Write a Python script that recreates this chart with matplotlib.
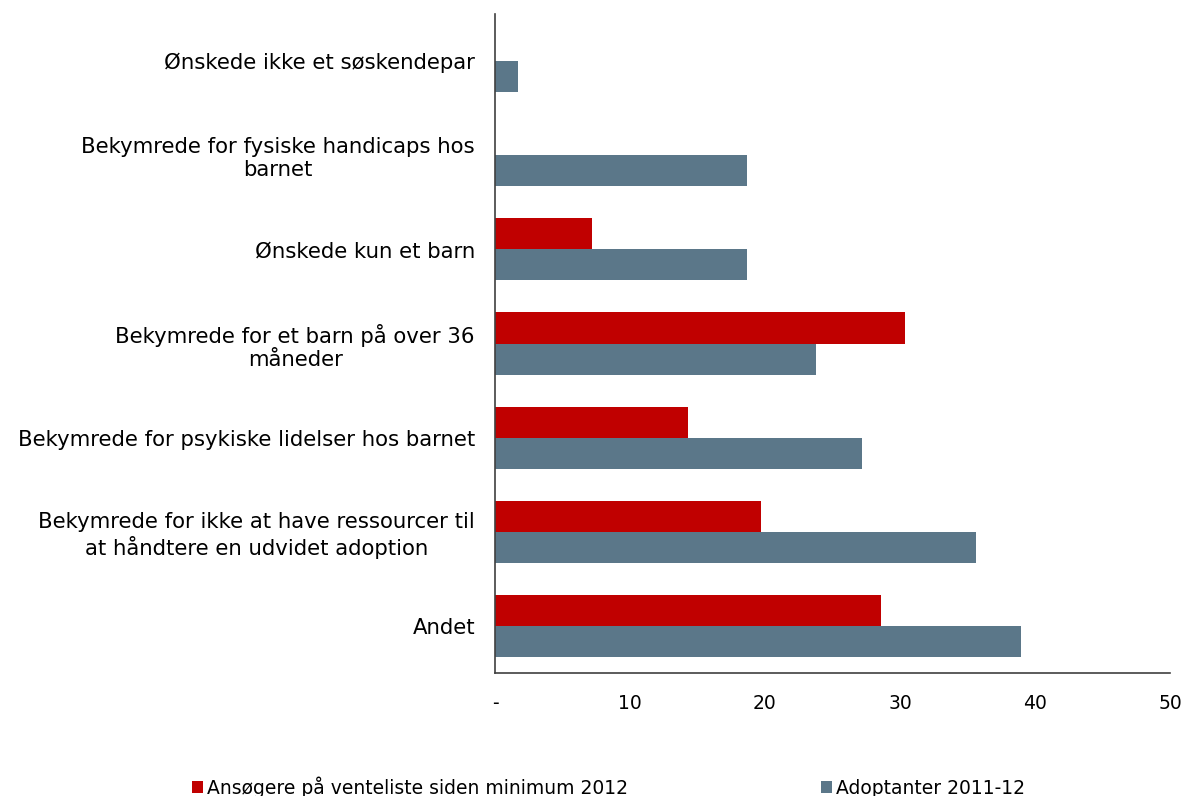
import matplotlib.pyplot as plt
import numpy as np

categories = [
    "Ønskede ikke et søskendepar",
    "Bekymrede for fysiske handicaps hos\nbarnet",
    "Ønskede kun et barn",
    "Bekymrede for et barn på over 36\nmåneder",
    "Bekymrede for psykiske lidelser hos barnet",
    "Bekymrede for ikke at have ressourcer til\nat håndtere en udvidet adoption",
    "Andet",
]
ansoegere = [0, 0, 7.2, 30.4, 14.3, 19.7, 28.6]
adoptanter = [1.7, 18.7, 18.7, 23.8, 27.2, 35.6, 39.0]
series_names = ["Ansøgere på venteliste siden minimum 2012", "Adoptanter 2011-12"]
xticks = [0, 10, 20, 30, 40, 50]
xticklabels = ["-", "10", "20", "30", "40", "50"]

fig = plt.figure(figsize=(11.87, 7.96), dpi=100)
ax = fig.add_axes([495 / 1187, 1 - 673 / 796, (1170 - 495) / 1187, (673 - 14) / 796])

y = np.arange(len(categories))
h = 0.33
ax.barh(y - h / 2, ansoegere, height=h, color="#C00000", label=series_names[0])
ax.barh(y + h / 2, adoptanter, height=h, color="#5B7789", label=series_names[1])

ax.set_ylim(len(categories) - 0.5, -0.5)
ax.set_xlim(0, 50)
ax.set_yticks(y)
ax.set_yticklabels(categories, fontsize=15.3, multialignment="center")
ax.set_xticks(xticks)
ax.set_xticklabels(xticklabels, fontsize=13.5)
ax.tick_params(axis="both", length=0)
ax.tick_params(axis="y", pad=14.4)
ax.tick_params(axis="x", pad=15)
for s in ["top", "right"]:
    ax.spines[s].set_visible(False)
for s in ["left", "bottom"]:
    ax.spines[s].set_color("#404040")
    ax.spines[s].set_linewidth(1.2)

fig.legend(loc="center left", bbox_to_anchor=(192 / 1187, 1 - 787 / 796),
           ncol=2, frameon=False, fontsize=13.5, borderpad=0, borderaxespad=0,
           handlelength=0.6, handleheight=0.6, handletextpad=0.2, columnspacing=10.3)

fig.savefig("out.png", dpi=100)
